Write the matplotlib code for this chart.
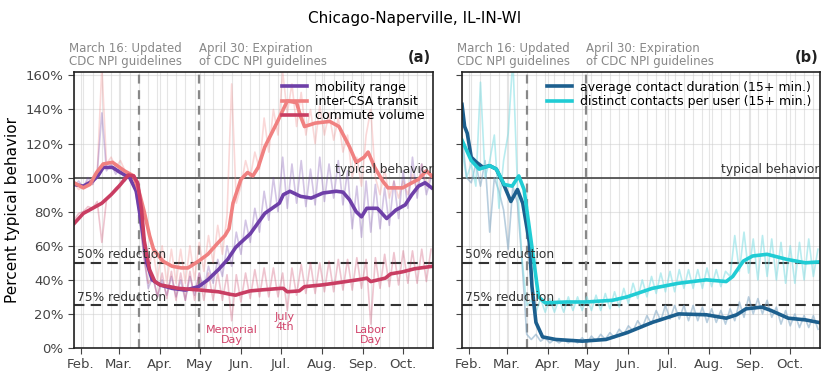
import numpy as np
import pandas as pd
import matplotlib
matplotlib.use("Agg")
import matplotlib.pyplot as plt
import matplotlib.dates as mdates
from matplotlib.ticker import FuncFormatter, MultipleLocator

# ---- raw (daily-ish) readings, sampled every 3.5 days from Jan 27 ----
raw_dates = pd.date_range("2020-01-27", periods=78, freq="84h")

raw_commute = [75, 79, 80, 83, 82, 86, 62, 87, 90, 94, 96, 101, 102, 100,
               85, 55, 38, 42, 30, 44, 29, 45, 28, 44, 28, 45, 28, 44,
               28, 44, 28, 44, 28, 43, 16, 43, 27, 44, 29, 46, 30, 47,
               30, 47, 30, 44, 22, 47, 31, 49, 32, 50, 32, 50, 33, 51,
               33, 52, 34, 52, 34, 53, 35, 52, 14, 53, 35, 55, 36, 56,
               37, 57, 38, 57, 38, 58, 39, 58]
raw_mobility = [95, 98, 94, 100, 96, 103, 138, 104, 108, 102, 106, 98, 102, 95,
                80, 55, 35, 42, 30, 40, 31, 42, 30, 40, 28, 42, 31, 44,
                34, 48, 38, 52, 42, 60, 48, 68, 55, 75, 62, 82, 68, 92,
                75, 100, 80, 112, 82, 108, 85, 110, 83, 105, 84, 112, 86, 108,
                88, 110, 84, 104, 70, 95, 65, 98, 68, 96, 70, 94, 72, 98,
                76, 104, 82, 112, 88, 108, 90, 100]
raw_transit = [97, 93, 95, 98, 96, 102, 165, 108, 112, 106, 110, 104, 100, 98,
               88, 65, 45, 58, 40, 60, 38, 58, 38, 58, 38, 60, 40, 62,
               45, 66, 50, 72, 55, 78, 155, 85, 95, 110, 100, 115, 105, 135,
               115, 140, 125, 162, 138, 155, 130, 150, 125, 140, 120, 142, 125, 138,
               122, 135, 115, 125, 100, 112, 95, 125, 140, 100, 90, 105, 88, 98,
               88, 98, 90, 102, 92, 108, 95, 102]
raw_duration = [124, 100, 97, 108, 95, 110, 68, 100, 92, 81, 58, 95, 85, 50,
                8, 5, 8, 4, 6, 3, 5, 3, 5, 3, 5, 3, 6, 3,
                7, 4, 8, 5, 9, 6, 11, 8, 13, 10, 16, 12, 19, 14,
                22, 16, 25, 17, 25, 17, 25, 16, 25, 16, 24, 15, 23, 15,
                22, 14, 23, 16, 27, 18, 30, 20, 29, 20, 28, 18, 24, 14,
                22, 13, 20, 12, 19, 12, 19, 11]
raw_distinct = [116, 100, 108, 95, 156, 100, 110, 125, 82, 110, 126, 170, 95, 52,
                25, 28, 21, 29, 21, 29, 21, 29, 21, 30, 22, 30, 22, 30,
                22, 31, 22, 32, 23, 33, 24, 35, 26, 38, 29, 40, 30, 42,
                32, 44, 33, 45, 33, 46, 35, 46, 35, 46, 35, 47, 36, 46,
                36, 45, 42, 66, 45, 68, 44, 64, 40, 66, 42, 64, 40, 62,
                38, 60, 38, 62, 40, 64, 42, 58]

# ---- smoothed series ----
commute_dates = ["2020-01-27", "2020-02-03", "2020-02-10", "2020-02-17", "2020-02-24",
                 "2020-03-01", "2020-03-08", "2020-03-12", "2020-03-15", "2020-03-18",
                 "2020-03-20", "2020-03-24", "2020-03-28", "2020-04-01", "2020-04-15",
                 "2020-05-01", "2020-05-15", "2020-05-24", "2020-05-28", "2020-06-01",
                 "2020-06-08", "2020-06-15", "2020-07-01", "2020-07-03", "2020-07-06",
                 "2020-07-15", "2020-07-19", "2020-08-01", "2020-08-15", "2020-09-01",
                 "2020-09-04", "2020-09-07", "2020-09-18", "2020-09-22", "2020-10-01",
                 "2020-10-10", "2020-10-24"]
commute_vals = [73, 79, 82, 85, 90, 95, 101.5, 101, 97, 81, 63, 46, 39, 37, 35,
                34, 33, 31.5, 31, 32, 33.5, 34, 35, 35, 33, 33.5, 36, 37, 38.5,
                40.5, 41, 39, 41, 43.5, 44.7, 46.5, 48]

mobility_dates = ["2020-01-27", "2020-02-03", "2020-02-10", "2020-02-14", "2020-02-18",
                  "2020-02-25", "2020-03-02", "2020-03-09", "2020-03-14", "2020-03-18",
                  "2020-03-22", "2020-03-26", "2020-04-01", "2020-04-10", "2020-04-20",
                  "2020-04-30", "2020-05-07", "2020-05-15", "2020-05-22", "2020-05-28",
                  "2020-06-01", "2020-06-08", "2020-06-19", "2020-06-30", "2020-07-03",
                  "2020-07-08", "2020-07-16", "2020-07-24", "2020-08-02", "2020-08-12",
                  "2020-08-17", "2020-08-22", "2020-08-27", "2020-08-31", "2020-09-04",
                  "2020-09-12", "2020-09-19", "2020-09-26", "2020-10-03", "2020-10-08",
                  "2020-10-13", "2020-10-18", "2020-10-23"]
mobility_vals = [96, 95, 98, 101, 106, 106, 103, 100, 92, 72, 50, 40, 37, 35, 34,
                 36, 40, 46, 52, 59, 62, 67, 79, 85, 90, 92, 89, 88, 91, 92,
                 91.5, 87, 80, 77, 82, 82, 76, 81, 84, 90, 95, 97, 94]

transit_dates = ["2020-01-27", "2020-02-03", "2020-02-08", "2020-02-13", "2020-02-18",
                 "2020-02-25", "2020-03-05", "2020-03-12", "2020-03-16", "2020-03-20",
                 "2020-03-24", "2020-03-27", "2020-04-03", "2020-04-10", "2020-04-17",
                 "2020-04-22", "2020-04-30", "2020-05-07", "2020-05-15", "2020-05-20",
                 "2020-05-23", "2020-05-26", "2020-05-29", "2020-06-01", "2020-06-06",
                 "2020-06-10", "2020-06-14", "2020-06-19", "2020-06-28", "2020-07-06",
                 "2020-07-13", "2020-07-16", "2020-07-19", "2020-07-27", "2020-08-07",
                 "2020-08-14", "2020-08-22", "2020-08-27", "2020-09-02", "2020-09-05",
                 "2020-09-10", "2020-09-16", "2020-09-20", "2020-10-01", "2020-10-13",
                 "2020-10-19", "2020-10-23"]
transit_vals = [97, 94, 96, 103, 108, 109, 104, 101, 92, 80, 66, 58, 51, 48, 47,
                47, 51, 55, 62, 66, 70, 85, 92, 99, 103, 101, 106, 118, 132, 145,
                144, 136, 130, 132, 133, 130, 118, 109, 112, 115, 106, 98, 94, 94,
                99, 104, 101]

duration_dates = ["2020-01-27", "2020-01-29", "2020-01-31", "2020-02-03", "2020-02-07",
                  "2020-02-12", "2020-02-17", "2020-02-22", "2020-02-27", "2020-03-04",
                  "2020-03-09", "2020-03-13", "2020-03-18", "2020-03-20", "2020-03-23",
                  "2020-03-28", "2020-04-07", "2020-04-27", "2020-05-15", "2020-05-31",
                  "2020-06-19", "2020-07-09", "2020-07-30", "2020-08-14", "2020-08-22",
                  "2020-08-29", "2020-09-10", "2020-09-17", "2020-09-30", "2020-10-13",
                  "2020-10-23"]
duration_vals = [143, 130, 126, 112, 109, 106, 107, 105, 97, 86, 93, 85, 62, 36, 15,
                 6.5, 5, 4, 5, 9, 15, 20, 19.5, 17.5, 19.5, 23, 24, 22, 17.5, 16.5, 15]

distinct_dates = ["2020-01-27", "2020-02-03", "2020-02-09", "2020-02-17", "2020-02-22",
                  "2020-02-28", "2020-03-05", "2020-03-10", "2020-03-14", "2020-03-20",
                  "2020-03-25", "2020-03-30", "2020-04-15", "2020-04-30", "2020-05-20",
                  "2020-05-31", "2020-06-19", "2020-07-09", "2020-07-30", "2020-08-14",
                  "2020-08-19", "2020-08-27", "2020-09-03", "2020-09-14", "2020-09-29",
                  "2020-10-13", "2020-10-23"]
distinct_vals = [122, 110, 105, 107, 105, 96, 95, 101, 93, 59, 30, 26.5, 27, 27, 28,
                 30, 35, 38, 40, 39, 42, 51, 54, 55, 52, 50, 50.5]

month_ticks = ["2020-02-01", "2020-03-01", "2020-04-01", "2020-05-01", "2020-06-01",
               "2020-07-01", "2020-08-01", "2020-09-01", "2020-10-01"]
month_labels = ["Feb.", "Mar.", "Apr.", "May", "Jun.", "Jul.", "Aug.", "Sep.", "Oct."]

holidays = ["2020-05-25", "2020-07-04", "2020-09-07"]
holiday_labels = ["Memorial\nDay", "July\n4th", "Labor\nDay"]
holiday_y = [7.5, 15.5, 7.5]

C_MOB, C_TRANS, C_COMM = "#6e3fa8", "#f08080", "#c93d62"
C_DUR, C_DIST = "#1c5f8e", "#20ccd4"

fig = plt.figure(figsize=(8.3, 3.78), dpi=100)
ax_a = fig.add_axes([0.0892, 0.0794, 0.4325, 0.7301])
ax_b = fig.add_axes([0.5566, 0.0794, 0.4313, 0.7301], sharey=ax_a)

fig.text(0.5, 0.952, "Chicago-Naperville, IL-IN-WI", ha="center", va="center", fontsize=11)

d = pd.to_datetime


def decorate(ax, label):
    ax.set_xlim(d("2020-01-27"), d("2020-10-24"))
    ax.set_ylim(0, 162)
    ax.yaxis.set_major_locator(MultipleLocator(20))
    ax.yaxis.set_major_formatter(FuncFormatter(lambda v, p: f"{v:.0f}%"))
    ax.set_xticks(d(month_ticks))
    ax.set_xticklabels(month_labels)
    ax.xaxis.set_minor_locator(mdates.WeekdayLocator(byweekday=mdates.MO))
    ax.grid(True, which="major", color="#cccccc", lw=0.8, alpha=0.5)
    ax.grid(True, which="minor", axis="x", color="#cccccc", lw=0.8, alpha=0.5)
    ax.tick_params(which="minor", length=0)
    ax.tick_params(labelsize=9.5, colors="#444444", length=4)
    for s in ax.spines.values():
        s.set_color("#222222")
        s.set_linewidth(1.2)
    ax.set_axisbelow(True)

    ax.axhline(100, color="#444444", lw=1.2, zorder=1)
    ax.axhline(50, color="#333333", lw=1.5, ls=(0, (5, 3)), zorder=1)
    ax.axhline(25, color="#333333", lw=1.5, ls=(0, (5, 3)), zorder=1)
    for dt in ["2020-03-16", "2020-04-30"]:
        ax.axvline(d(dt), color="#888888", lw=1.6, ls=(0, (4, 3)), zorder=1)

    tr = ax.get_xaxis_transform()
    ax.text(d("2020-10-24"), 101, "typical behavior", ha="right", va="bottom",
            fontsize=8.8, color="#333333")
    ax.text(d("2020-01-29"), 51, "50% reduction", ha="left", va="bottom",
            fontsize=8.8, color="#333333")
    ax.text(d("2020-01-29"), 26, "75% reduction", ha="left", va="bottom",
            fontsize=8.8, color="#333333")
    ax.text(d("2020-01-23"), 1.015, "March 16: Updated\nCDC NPI guidelines", transform=tr,
            ha="left", va="bottom", fontsize=8.5, color="#888888", linespacing=1.0)
    ax.text(d("2020-04-30"), 1.015, "April 30: Expiration\nof CDC NPI guidelines",
            transform=tr, ha="left", va="bottom", fontsize=8.5, color="#888888",
            linespacing=1.0)
    ax.text(0.995, 1.025, label, transform=ax.transAxes, ha="right", va="bottom",
            fontsize=10.5, fontweight="bold", color="#222222")


# panel (a)
rd = raw_dates
ax_a.plot(rd, raw_transit, color=C_TRANS, lw=1.2, alpha=0.3)
ax_a.plot(rd, raw_mobility, color=C_MOB, lw=1.2, alpha=0.3)
ax_a.plot(rd, raw_commute, color=C_COMM, lw=1.2, alpha=0.3)
ax_a.plot(d(mobility_dates), mobility_vals, color=C_MOB, lw=2.6, label="mobility range")
ax_a.plot(d(transit_dates), transit_vals, color=C_TRANS, lw=2.6, label="inter-CSA transit")
ax_a.plot(d(commute_dates), commute_vals, color=C_COMM, lw=2.6, label="commute volume")
for hd, hl, hy in zip(holidays, holiday_labels, holiday_y):
    ax_a.text(d(hd), hy, hl, ha="center", va="center", fontsize=8,
              color="#d1436a", linespacing=1.0)
decorate(ax_a, "(a)")
ax_a.set_ylabel("Percent typical behavior", fontsize=11)
ax_a.legend(loc="upper right", bbox_to_anchor=(1.0, 1.0), frameon=False, fontsize=9,
            handlelength=2.0, handletextpad=0.6, labelspacing=0.1, borderaxespad=0.3)

# panel (b)
ax_b.plot(rd, raw_duration, color="#7fa6c4", lw=1.2, alpha=0.55)
ax_b.plot(rd, raw_distinct, color="#7fdde3", lw=1.2, alpha=0.55)
ax_b.plot(d(duration_dates), duration_vals, color=C_DUR, lw=2.6,
          label="average contact duration (15+ min.)")
ax_b.plot(d(distinct_dates), distinct_vals, color=C_DIST, lw=2.6,
          label="distinct contacts per user (15+ min.)")
decorate(ax_b, "(b)")
plt.setp(ax_b.get_yticklabels(), visible=False)
ax_b.legend(loc="upper right", bbox_to_anchor=(1.0, 1.0), frameon=False, fontsize=9,
            handlelength=2.0, handletextpad=0.6, labelspacing=0.1, borderaxespad=0.3)

fig.savefig("out.png", dpi=100)
